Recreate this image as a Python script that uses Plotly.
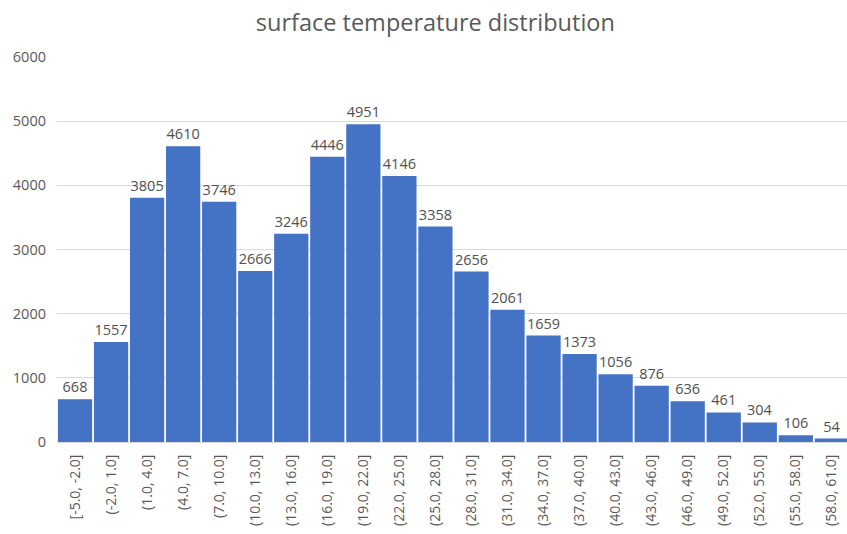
import plotly.graph_objects as go

# Histogram bins (°C) and counts per bin
bins = ["[-5.0, -2.0]", "(-2.0, 1.0]", "(1.0, 4.0]", "(4.0, 7.0]", "(7.0, 10.0]",
        "(10.0, 13.0]", "(13.0, 16.0]", "(16.0, 19.0]", "(19.0, 22.0]", "(22.0, 25.0]",
        "(25.0, 28.0]", "(28.0, 31.0]", "(31.0, 34.0]", "(34.0, 37.0]", "(37.0, 40.0]",
        "(40.0, 43.0]", "(43.0, 46.0]", "(46.0, 49.0]", "(49.0, 52.0]", "(52.0, 55.0]",
        "(55.0, 58.0]", "(58.0, 61.0]"]
counts = [668, 1557, 3805, 4610, 3746, 2666, 3246, 4446, 4951, 4146, 3358,
          2656, 2061, 1659, 1373, 1056, 876, 636, 461, 304, 106, 54]
y_ticks = [0, 1000, 2000, 3000, 4000, 5000, 6000]

FONT = "Open Sans"
GREY = "#595959"

fig = go.Figure(
    go.Bar(
        x=bins,
        y=counts,
        marker=dict(color="#4472C4", line=dict(width=0)),
        text=[str(c) for c in counts],
        textposition="outside",
        textfont=dict(family=FONT, size=14.5, color="#505050"),
        cliponaxis=False,
        hoverinfo="x+y",
    )
)

fig.update_layout(
    width=847,
    height=534,
    margin=dict(l=57, r=0, t=57, b=92),
    paper_bgcolor="white",
    plot_bgcolor="white",
    bargap=0.05,
    showlegend=False,
    title=dict(
        text="surface temperature distribution",
        x=0.514,
        xanchor="center",
        y=0.957,
        yanchor="middle",
        font=dict(family=FONT, size=23.5, color=GREY),
    ),
    xaxis=dict(
        type="category",
        range=[-0.5, 21.42],
        tickangle=-90,
        tickfont=dict(family=FONT, size=14, color=GREY),
        showgrid=False,
        showline=True,
        linecolor="#D9D9D9",
        ticks="",
        ticklabelstandoff=6,
    ),
    yaxis=dict(
        range=[0, 6000],
        tickvals=y_ticks,
        tickfont=dict(family=FONT, size=14.5, color=GREY),
        showgrid=True,
        gridcolor="#D9D9D9",
        gridwidth=1,
        zeroline=False,
        showline=False,
        ticks="",
        ticklabelstandoff=10,
    ),
)

fig.write_html("out.html")
